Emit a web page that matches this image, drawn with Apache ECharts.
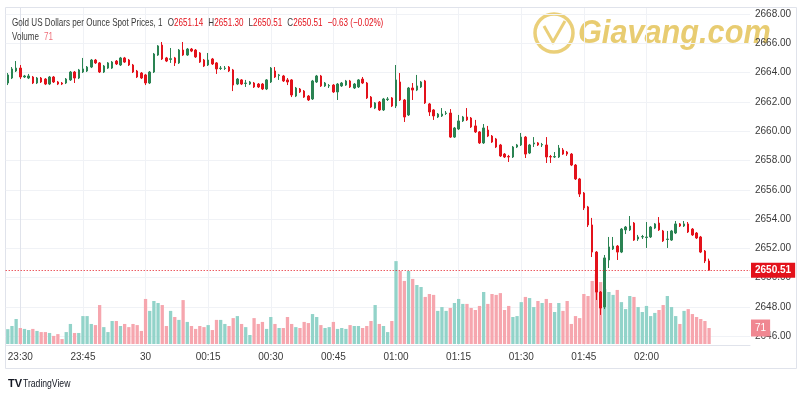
<!DOCTYPE html>
<html><head><meta charset="utf-8">
<script src="https://cdn.jsdelivr.net/npm/echarts@6/dist/echarts.min.js"></script>
<style>html,body{margin:0;padding:0;background:#fff}#c{width:800px;height:400px}</style>
</head><body><div id="c"></div>
<script>
// minutes relative to 23:30 of the first candle (23:27)
const firstMinute = -3;
const timeLabels = ['23:30','23:45','30','00:15','00:30','00:45','01:00','01:15','01:30','01:45','02:00'];
const tickMinutes = [0,15,30,45,60,75,90,105,120,135,150];
const priceTicks = [2646,2648,2650,2652,2654,2656,2658,2660,2662,2664,2666,2668];

const opens = [2663.29,2663.63,2664.11,2664.31,2663.70,2663.63,2663.70,2663.29,2663.63,2663.56,
 2663.22,2663.70,2663.36,2663.29,2663.29,2663.50,2664.04,2663.63,2664.04,2664.11,
 2664.38,2664.86,2664.66,2664.04,2664.31,2664.31,2664.79,2664.52,2665.00,2664.86,
 2664.52,2664.11,2663.97,2663.84,2663.29,2664.04,2665.20,2665.88,2665.00,2664.90,
 2665.00,2664.66,2665.54,2665.20,2665.61,2665.54,2665.34,2664.86,2664.52,2664.93,
 2664.66,2664.28,2664.28,2664.38,2664.18,2663.22,2663.50,2663.26,2663.22,2663.29,
 2663.22,2663.22,2662.88,2663.36,2664.11,2663.80,2663.77,2663.50,2663.50,2662.40,
 2662.88,2662.74,2662.40,2662.20,2663.36,2663.77,2663.09,2663.09,2663.15,2662.68,
 2663.09,2663.15,2663.43,2662.95,2663.02,2663.56,2663.29,2662.33,2661.58,2661.99,
 2661.45,2662.16,2662.27,2661.72,2663.36,2662.13,2661.11,2662.95,2662.81,2663.02,
 2663.43,2661.86,2661.45,2660.97,2661.04,2661.21,2661.24,2659.60,2660.15,2660.70,
 2660.97,2660.90,2660.36,2659.95,2659.20,2660.08,2659.67,2659.47,2659.06,2658.44,
 2658.28,2658.24,2658.92,2659.06,2659.60,2658.51,2659.13,2659.20,2659.06,2659.06,
 2658.27,2658.24,2658.24,2658.72,2658.58,2658.44,2657.69,2656.74,2655.78,2654.83,
 2653.60,2651.75,2649.02,2648.00,2651.21,2651.96,2652.16,2651.75,2653.26,2653.26,
 2653.73,2652.64,2652.78,2652.74,2652.78,2653.39,2653.73,2653.19,2652.61,2652.57,
 2653.05,2653.67,2653.53,2653.67,2653.32,2653.05,2652.78,2651.82,2651.14];

const closes = [2663.84,2664.25,2664.31,2663.70,2663.77,2663.77,2663.29,2663.63,2663.36,2663.22,
 2663.70,2663.36,2663.22,2663.22,2663.56,2664.04,2663.63,2664.18,2664.25,2664.38,
 2664.86,2664.66,2664.04,2664.45,2664.66,2664.72,2664.59,2665.00,2664.72,2664.52,
 2664.04,2663.70,2663.63,2663.29,2664.04,2665.27,2665.82,2664.93,2664.79,2664.95,
 2664.66,2665.54,2665.20,2665.61,2665.47,2665.07,2664.72,2664.45,2664.86,2664.59,
 2664.25,2664.31,2664.31,2664.11,2663.15,2663.56,2663.22,2663.29,2663.36,2663.02,
 2663.02,2662.88,2663.50,2664.31,2663.70,2663.84,2663.43,2663.36,2662.47,2662.95,
 2662.68,2662.33,2662.13,2663.43,2663.77,2663.09,2663.29,2663.12,2662.68,2663.22,
 2663.29,2663.43,2663.02,2663.22,2663.50,2663.29,2662.27,2661.65,2661.93,2661.45,
 2662.20,2662.20,2661.72,2663.50,2662.13,2660.97,2662.95,2662.81,2663.09,2663.36,
 2661.93,2661.31,2661.04,2661.17,2661.17,2661.24,2659.60,2660.22,2660.70,2660.97,
 2660.77,2660.29,2659.95,2659.20,2660.22,2659.67,2659.26,2658.92,2658.31,2658.24,
 2658.24,2658.92,2659.06,2659.60,2658.44,2659.06,2659.20,2659.06,2659.09,2658.24,
 2658.24,2658.27,2658.85,2658.44,2658.44,2657.69,2656.74,2655.71,2654.76,2653.60,
 2651.75,2649.02,2647.93,2651.35,2652.10,2652.16,2651.75,2653.32,2653.46,2653.53,
 2652.57,2652.78,2652.81,2652.78,2653.46,2653.67,2653.26,2652.51,2652.64,2653.19,
 2653.67,2653.53,2653.67,2653.12,2652.92,2652.71,2651.75,2651.14,2650.51];

const highs = [2663.97,2664.38,2664.79,2664.52,2663.84,2663.91,2663.77,2663.70,2663.70,2663.63,
 2663.77,2663.77,2663.43,2663.36,2663.63,2664.11,2664.11,2664.25,2665.00,2664.45,
 2664.93,2664.93,2664.72,2664.52,2664.72,2664.79,2664.86,2665.07,2665.07,2664.93,
 2664.59,2664.18,2664.04,2663.91,2664.11,2665.34,2665.88,2666.09,2665.07,2665.68,
 2665.07,2665.61,2666.09,2665.68,2665.68,2665.61,2665.40,2664.93,2665.34,2665.00,
 2664.72,2664.45,2664.45,2664.45,2664.25,2663.63,2663.56,2663.50,2663.43,2663.36,
 2663.29,2663.29,2663.56,2664.38,2664.38,2663.91,2663.84,2663.63,2663.56,2663.02,
 2662.95,2662.81,2662.47,2663.50,2663.84,2663.84,2663.36,2663.22,2663.22,2663.29,
 2663.36,2663.50,2663.50,2663.29,2663.56,2663.70,2663.36,2662.40,2661.99,2662.06,
 2662.27,2662.33,2662.33,2664.52,2663.97,2662.20,2663.02,2663.29,2663.84,2663.43,
 2663.50,2661.93,2661.51,2661.24,2661.58,2661.38,2661.51,2660.29,2661.11,2661.04,
 2661.58,2660.97,2660.77,2660.01,2660.49,2660.36,2659.74,2659.54,2659.13,2658.51,
 2658.38,2658.99,2659.13,2659.88,2659.67,2659.13,2659.60,2659.26,2659.20,2659.60,
 2658.38,2658.58,2659.06,2658.85,2658.65,2658.51,2657.76,2656.81,2655.85,2654.90,
 2654.08,2651.82,2649.09,2651.55,2652.78,2652.78,2652.23,2653.39,2653.53,2654.21,
 2653.80,2652.92,2652.92,2653.80,2653.53,2653.73,2654.14,2653.26,2653.19,2653.26,
 2653.87,2653.73,2653.87,2653.80,2653.39,2653.12,2652.85,2651.89,2651.30];

const lows = [2663.15,2663.56,2664.04,2663.56,2663.63,2663.56,2663.22,2663.22,2663.29,2663.15,
 2663.15,2663.29,2663.15,2663.15,2663.22,2663.43,2663.29,2663.56,2663.97,2664.04,
 2664.31,2664.59,2663.97,2663.97,2664.25,2664.25,2664.52,2664.45,2664.66,2664.45,
 2663.97,2663.63,2663.56,2663.15,2663.22,2663.97,2665.14,2664.86,2664.72,2664.66,
 2664.45,2664.59,2665.14,2665.14,2665.40,2665.00,2664.66,2664.38,2664.45,2664.52,
 2663.91,2664.18,2664.18,2664.04,2662.74,2663.15,2663.15,2663.02,2663.15,2662.95,
 2662.95,2662.81,2662.81,2663.29,2663.63,2663.50,2663.36,2663.15,2662.33,2662.33,
 2662.61,2662.27,2662.06,2662.13,2663.29,2663.02,2663.02,2662.95,2662.61,2662.13,
 2663.02,2663.09,2662.95,2662.88,2662.95,2663.22,2662.20,2661.58,2661.51,2661.38,
 2661.38,2662.06,2661.65,2661.58,2662.06,2660.63,2661.04,2662.13,2662.74,2662.95,
 2661.86,2661.04,2660.77,2660.90,2660.97,2661.11,2659.54,2659.54,2660.08,2660.63,
 2660.70,2660.22,2659.88,2659.13,2659.13,2659.60,2659.20,2658.85,2658.24,2658.17,
 2657.90,2658.17,2658.85,2658.99,2658.17,2658.44,2658.92,2658.99,2658.92,2657.83,
 2657.83,2658.17,2658.17,2658.38,2658.31,2657.62,2656.67,2655.51,2654.62,2653.46,
 2651.41,2648.48,2647.46,2647.86,2650.66,2651.89,2651.21,2651.68,2652.98,2653.19,
 2652.51,2652.51,2652.64,2652.03,2652.71,2653.32,2653.19,2652.44,2652.03,2652.51,
 2652.98,2653.46,2653.46,2653.05,2652.85,2652.64,2651.68,2651.00,2650.51];

const volumes = [66,80,111,71,67,62,67,58,53,53,
 49,36,44,22,53,89,49,49,124,124,
 89,84,173,75,53,102,102,80,89,75,
 89,84,58,200,147,191,182,173,80,147,
 120,107,195,98,80,67,80,75,84,62,
 107,107,89,80,115,124,89,75,40,115,
 89,98,67,120,89,71,71,120,89,75,
 71,98,93,133,120,84,71,75,98,67,
 71,67,84,80,80,71,80,102,173,89,
 80,53,102,368,324,280,324,289,262,253,
 209,222,218,147,164,147,160,182,200,178,
 178,160,151,169,231,178,222,218,226,151,
 169,120,124,186,209,204,164,191,182,200,
 182,142,182,147,191,89,124,115,222,213,
 280,311,275,244,231,218,240,186,155,213,
 209,164,142,169,124,138,151,173,213,164,
 124,89,147,155,133,120,111,102,71];

const FONT = "'Liberation Sans',sans-serif";
const UP = '#2a8352', DOWN = '#e3121b', VUP = '#92d3c9', VDOWN = '#f6a6ae';
const TXT = '#3a3a3a', GRIDC = '#f0f2f6', BORDER = '#e0e3eb';

const n = opens.length;
const minutes = opens.map((_, i) => firstMinute + i);
const candleData = opens.map((o, i) => [minutes[i], o, closes[i], lows[i], highs[i]]);
const volData = volumes.map((v, i) => ({ value: [minutes[i], v], itemStyle: { color: closes[i] >= opens[i] ? VUP : VDOWN } }));

const last = n - 1;
const chg = closes[last] - closes[last - 1];
const pct = chg / closes[last - 1] * 100;
const sgn = x => (x < 0 ? '\u2212' : '+') + Math.abs(x).toFixed(2);
const legendLine1 = '{t|Gold US Dollars per Ounce Spot Prices, 1}  {k|O}{v|' + opens[last].toFixed(2) + '}  {k|H}{v|' + highs[last].toFixed(2) +
  '}  {k|L}{v|' + lows[last].toFixed(2) + '}  {k|C}{v|' + closes[last].toFixed(2) + '}  {v|' + sgn(chg) + ' (' + sgn(pct) + '%)}';
const legendLine2 = '{t|Volume}  {v|' + volumes[last] + '}';

const xMin = -3.5, xMax = 174.8;
const GOLD = '#e6c762';
const chart = echarts.init(document.getElementById('c'));
chart.setOption({
  animation: false,
  backgroundColor: '#fff',
  grid: [
    { left: 5.7, right: 50, top: 8, bottom: 55 },
    { left: 5.7, right: 50, top: 244, bottom: 56 }
  ],
  xAxis: [
    { type: 'value', gridIndex: 0, min: xMin, max: xMax, minInterval: 15, maxInterval: 15,
      axisLine: { show: true, lineStyle: { color: BORDER } },
      axisTick: { show: false, customValues: tickMinutes },
      axisLabel: { customValues: tickMinutes, formatter: v => timeLabels[Math.round(v / 15)] || '', color: TXT, fontSize: 10, fontFamily: FONT, margin: 7 },
      splitLine: { show: true, lineStyle: { color: GRIDC } } },
    { type: 'value', gridIndex: 1, min: xMin, max: xMax, show: false }
  ],
  yAxis: [
    { type: 'value', gridIndex: 0, position: 'right', min: 2645.406, max: 2668.41, minInterval: 2, maxInterval: 2,
      axisLine: { show: true, lineStyle: { color: BORDER } },
      axisTick: { show: false, customValues: priceTicks },
      axisLabel: { customValues: priceTicks, formatter: v => v.toFixed(2), color: TXT, fontSize: 10, fontFamily: FONT, margin: 5, align: 'left' },
      splitLine: { show: true, lineStyle: { color: GRIDC } } },
    { type: 'value', gridIndex: 1, min: 0, max: 444, show: false }
  ],
  series: [
    { type: 'bar', xAxisIndex: 1, yAxisIndex: 1, data: volData, barWidth: 3.3, z: 1, silent: true,
      markLine: { silent: true, symbol: ['none', 'none'], lineStyle: { width: 0, color: 'rgba(0,0,0,0)' },
        label: { show: true, position: 'end', distance: 1, formatter: String(volumes[last]), color: '#fff', backgroundColor: '#f08791', padding: [4, 4, 3, 4], fontSize: 10, fontFamily: FONT },
        data: [{ yAxis: volumes[last] }] } },
    { type: 'candlestick', xAxisIndex: 0, yAxisIndex: 0, data: candleData, encode: { x: 0, y: [1, 2, 3, 4] },
      barWidth: 2, z: 3, silent: true,
      itemStyle: { color: UP, color0: DOWN, borderColor: UP, borderColor0: DOWN, borderWidth: 1 },
      markLine: { silent: true, symbol: ['none', 'none'], lineStyle: { color: DOWN, type: [1, 2], width: 1 },
        label: { show: true, position: 'end', distance: 1, formatter: closes[last].toFixed(2), color: '#fff', backgroundColor: DOWN, padding: [3, 4, 2, 4], fontSize: 10, fontWeight: 'bold', fontFamily: FONT },
        data: [{ yAxis: closes[last] }] } }
  ],
  graphic: [
    { type: 'rect', silent: true, z: -10, shape: { x: 5.5, y: 7.5, width: 791, height: 361 }, style: { fill: 'none', stroke: BORDER, lineWidth: 1 } },
    { type: 'text', x: 12, y: 23, z: 10, scaleX: 0.77, style: { text: legendLine1, verticalAlign: 'middle',
        rich: { t: { fill: TXT, fontSize: 10.5, fontFamily: FONT }, k: { fill: TXT, fontSize: 10.5, fontFamily: FONT }, v: { fill: DOWN, fontSize: 10.5, fontFamily: FONT } } } },
    { type: 'text', x: 12, y: 37, z: 10, scaleX: 0.77, style: { text: legendLine2, verticalAlign: 'middle',
        rich: { t: { fill: TXT, fontSize: 10.5, fontFamily: FONT }, v: { fill: '#ef6f7a', fontSize: 10.5, fontFamily: FONT } } } },
    { type: 'group', z: 5, silent: true, children: [
      { type: 'circle', shape: { cx: 554, cy: 33, r: 19 }, style: { fill: 'none', stroke: GOLD, lineWidth: 3.5, opacity: 0.85 } },
      { type: 'polyline', shape: { points: [[544, 26], [553, 42], [565, 21]] }, style: { stroke: GOLD, lineWidth: 3, fill: 'none', opacity: 0.85 } },
      { type: 'text', x: 578, y: 34, scaleX: 0.93, style: { text: 'Giavang.com', verticalAlign: 'middle', font: 'italic bold 33px "Liberation Sans", sans-serif', fill: GOLD, opacity: 0.9 } }
    ] },
    { type: 'text', x: 8, y: 384, style: { text: 'TV', verticalAlign: 'middle', font: 'bold 11px "Liberation Sans", sans-serif', fill: '#131722' } },
    { type: 'text', x: 23, y: 384, scaleX: 0.82, style: { text: 'TradingView', verticalAlign: 'middle', font: '10.5px "Liberation Sans", sans-serif', fill: '#131722' } }
  ]
});
</script></body></html>
